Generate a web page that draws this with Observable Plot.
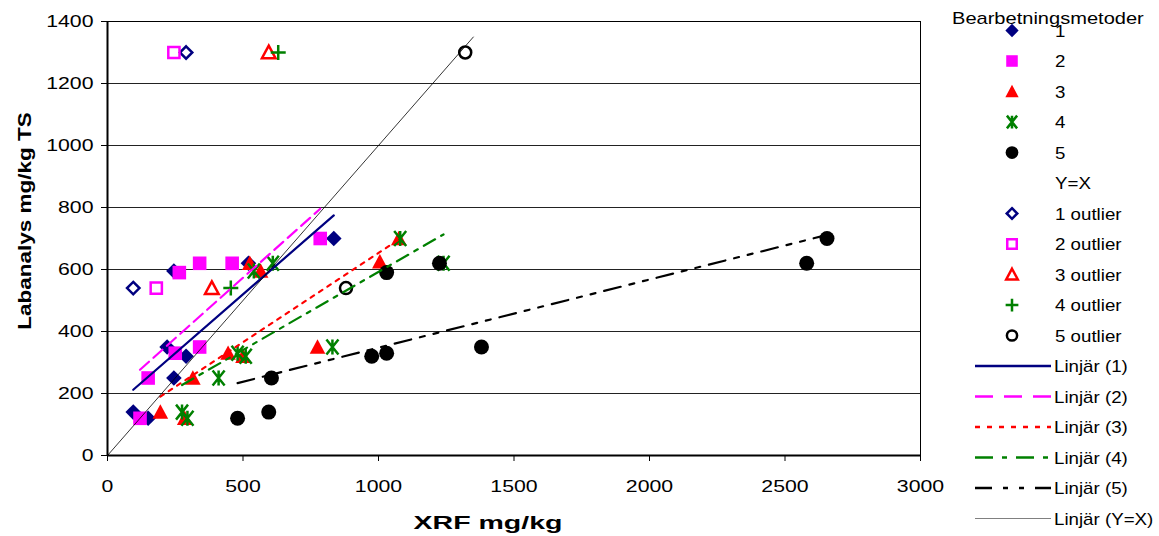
<!DOCTYPE html>
<html>
<head>
<meta charset="utf-8">
<script src="https://cdn.jsdelivr.net/npm/d3@7"></script>
<script src="https://cdn.jsdelivr.net/npm/@observablehq/plot@0.6"></script>
<style>
  body { margin: 0; background: #fff; }
  #wrap { position: relative; width: 1159px; height: 536px; overflow: hidden; }
  #wrap svg { position: absolute; left: 0; top: 0; }
</style>
</head>
<body>
<div id="wrap"></div>
<script>
// ---- data ----
const s1x = [95, 150, 220, 290, 245, 245, 520, 835];
const s1y = [140, 120, 350, 320, 250, 595, 620, 700];
const s2x = [120, 150, 250, 265, 340, 340, 460, 785];
const s2y = [120, 250, 330, 590, 350, 620, 620, 700];
const s3x = [195, 285, 315, 445, 500, 525, 565, 775, 1005, 1075];
const s3y = [140, 120, 250, 330, 320, 620, 595, 350, 625, 700];
const s4x = [275, 295, 410, 480, 510, 540, 610, 830, 1080, 1240];
const s4y = [140, 120, 250, 330, 320, 595, 620, 350, 700, 620];
const s5x = [480, 595, 605, 975, 1030, 1030, 1225, 1380, 2580, 2655];
const s5y = [120, 140, 250, 320, 330, 590, 620, 350, 620, 700];
const o1x = [95, 290];   const o1y = [540, 1300];
const o2x = [180, 245];  const o2y = [540, 1300];
const o3x = [385, 595];  const o3y = [540, 1300];
const o4x = [455, 630];  const o4y = [540, 1300];
const o5x = [880, 1320]; const o5y = [540, 1300];
const yxVals = [0, 1350];

const xTicks = [0, 500, 1000, 1500, 2000, 2500, 3000];
const yTicks = [0, 200, 400, 600, 800, 1000, 1200, 1400];
const seriesNames = ["1", "2", "3", "4", "5"];
const legendTitle = "Bearbetningsmetoder";
const legendLabels = ["1", "2", "3", "4", "5", "Y=X", "1 outlier", "2 outlier", "3 outlier", "4 outlier", "5 outlier",
  "Linjär (1)", "Linjär (2)", "Linjär (3)", "Linjär (4)", "Linjär (5)", "Linjär (Y=X)"];
const xTitle = "XRF mg/kg";
const yTitle = "Labanalys mg/kg TS";

// ---- styles ----
const colors = ["#000080", "#FF00FF", "#FF0000", "#008000", "#000000"];
const dashes = [null, "12,6", "4,6", "13,7,4,7", "17,9,5,9,5,9"];
const legendDashes = [null, "18,11", "5,7", "18,9,5,9", "17,11,5,11,5,11"];
const FONT = "'Liberation Sans', Arial, sans-serif";

function rows(xs, ys) { return xs.map((x, i) => ({ x, y: ys[i] })); }
const series = [rows(s1x, s1y), rows(s2x, s2y), rows(s3x, s3y), rows(s4x, s4y), rows(s5x, s5y)];
const outliers = [rows(o1x, o1y), rows(o2x, o2y), rows(o3x, o3y), rows(o4x, o4y), rows(o5x, o5y)];
const yx = yxVals.map(v => ({ x: v, y: v }));

// custom Excel-like symbols (r = half size)
function sym(f) { return { draw(c, size) { f(c, Math.sqrt(size / Math.PI)); } }; }
const diamond = sym((c, r) => { c.moveTo(0, -r); c.lineTo(r, 0); c.lineTo(0, r); c.lineTo(-r, 0); c.closePath(); });
const square = sym((c, r) => { c.rect(-r, -r, 2 * r, 2 * r); });
const triangle = sym((c, r) => { c.moveTo(0, -r); c.lineTo(r, r * 0.85); c.lineTo(-r, r * 0.85); c.closePath(); });
const star = sym((c, r) => { const d = r * 0.8; c.moveTo(-d, -r); c.lineTo(d, r); c.moveTo(d, -r); c.lineTo(-d, r); c.moveTo(0, -r); c.lineTo(0, r); });
const plus = sym((c, r) => { c.moveTo(-r, 0); c.lineTo(r, 0); c.moveTo(0, -r); c.lineTo(0, r); });
const circle = sym((c, r) => { c.moveTo(r, 0); c.arc(0, 0, r, 0, 2 * Math.PI); });

const filledSpec = [
  { symbol: diamond, r: 7.8, fill: colors[0], stroke: "none" },
  { symbol: square, r: 6.8, fill: colors[1], stroke: "none" },
  { symbol: triangle, r: 7.8, fill: colors[2], stroke: "none" },
  { symbol: star, r: 7.5, fill: "none", stroke: colors[3], strokeWidth: 2.5 },
  { symbol: circle, r: 7.5, fill: colors[4], stroke: "none" }
];
const hollowSpec = [
  { symbol: diamond, r: 6.2, fill: "none", stroke: colors[0], strokeWidth: 2.5 },
  { symbol: square, r: 5.6, fill: "none", stroke: colors[1], strokeWidth: 2.5 },
  { symbol: triangle, r: 6.8, fill: "none", stroke: colors[2], strokeWidth: 2.5 },
  { symbol: plus, r: 7.5, fill: "none", stroke: colors[3], strokeWidth: 2.5 },
  { symbol: circle, r: 6, fill: "none", stroke: colors[4], strokeWidth: 2.5 }
];

const fmt = d3.format("d");
const marks = [
  Plot.gridY(yTicks, { stroke: "#222", strokeOpacity: 1, strokeWidth: 1 }),
  Plot.frame({ stroke: "#000", strokeWidth: 1 }),
  Plot.axisY(yTicks, { tickSize: 6, tickPadding: 8, label: null, fontSize: 17, tickFormat: fmt }),
  Plot.axisX(xTicks, { tickSize: 6, tickPadding: 18, label: null, fontSize: 17, tickFormat: fmt }),
];
series.forEach((d, i) => marks.push(Plot.dot(d, { x: "x", y: "y", ...filledSpec[i] })));
outliers.forEach((d, i) => marks.push(Plot.dot(d, { x: "x", y: "y", ...hollowSpec[i] })));
series.forEach((d, i) => marks.push(Plot.linearRegressionY(d, {
  x: "x", y: "y", ci: 0, stroke: colors[i], strokeWidth: 2.2,
  strokeDasharray: dashes[i] || undefined
})));
marks.push(Plot.line(yx, { x: "x", y: "y", stroke: "#000", strokeWidth: 0.8 }));
marks.push(Plot.ruleX([0], { stroke: "#000", strokeWidth: 2 }));
marks.push(Plot.ruleY([0], { stroke: "#000", strokeWidth: 2 }));

const chart = Plot.plot({
  width: 1159, height: 536,
  marginLeft: 107, marginRight: 239, marginTop: 21, marginBottom: 81,
  x: { domain: [0, 3000] },
  y: { domain: [0, 1400] },
  style: { fontFamily: FONT, fontSize: "17px", color: "#000", background: "#fff" },
  marks
});
const wrap = document.getElementById("wrap");
wrap.appendChild(chart);

// stretch helper (reference font is wider than Arial metrics)
function stretch(sel, k) {
  sel.each(function () {
    const w = this.getComputedTextLength();
    this.setAttribute("textLength", (w * k).toFixed(1));
    this.setAttribute("lengthAdjust", "spacingAndGlyphs");
  });
}
const svg = d3.select(chart);
stretch(svg.selectAll("g[aria-label='y-axis tick label'] text"), 1.25);
stretch(svg.selectAll("g[aria-label='x-axis tick label'] text"), 1.25);

// axis titles
const yt = svg.append("text").attr("transform", "translate(31,221) rotate(-90)")
  .attr("text-anchor", "middle").attr("font-family", FONT).attr("font-weight", "bold")
  .attr("font-size", 18).text(yTitle);
const xt = svg.append("text").attr("x", 488).attr("y", 529)
  .attr("text-anchor", "middle").attr("font-family", FONT).attr("font-weight", "bold")
  .attr("font-size", 19).text(xTitle);
stretch(yt, 1.25); stretch(xt, 1.5);

// ---- legend ----
const leg = d3.select(wrap).append("svg").attr("width", 1159).attr("height", 536)
  .style("pointer-events", "none");
const lsym = [
  ...filledSpec.map(s => ({ ...s, r: s.r * 0.85 })),
  null,
  ...hollowSpec.map(s => ({ ...s, r: s.r * 0.85 }))
];
const lineSpec = [0, 1, 2, 3, 4].map(i => ({ stroke: colors[i], dash: legendDashes[i], w: 2.5 }))
  .concat([{ stroke: "#808080", dash: null, w: 1.2 }]);
const y0 = 30.5, step = 30.5;
legendLabels.forEach((lab, i) => {
  const cy = y0 + i * step;
  if (i < 11) {
    const s = lsym[i];
    if (s) {
      const p = d3.path();
      s.symbol.draw(p, Math.PI * s.r * s.r);
      leg.append("path").attr("d", p.toString()).attr("transform", `translate(1012,${cy})`)
        .attr("fill", s.fill).attr("stroke", s.stroke).attr("stroke-width", s.strokeWidth || 0);
    }
  } else {
    const l = lineSpec[i - 11];
    leg.append("line").attr("x1", 975).attr("x2", 1051).attr("y1", cy).attr("y2", cy)
      .attr("stroke", l.stroke).attr("stroke-width", l.w)
      .attr("stroke-dasharray", l.dash);
  }
  const t = leg.append("text").attr("x", i < 11 ? 1055 : 1054).attr("y", cy).attr("dy", "0.36em")
    .attr("font-family", FONT).attr("font-size", 17).text(lab);
  stretch(t, 1.1);
});
const tt = leg.append("text").attr("x", 952).attr("y", 24).attr("font-family", FONT)
  .attr("font-size", 17).text(legendTitle);
stretch(tt, 1.18);
</script>
</body>
</html>
